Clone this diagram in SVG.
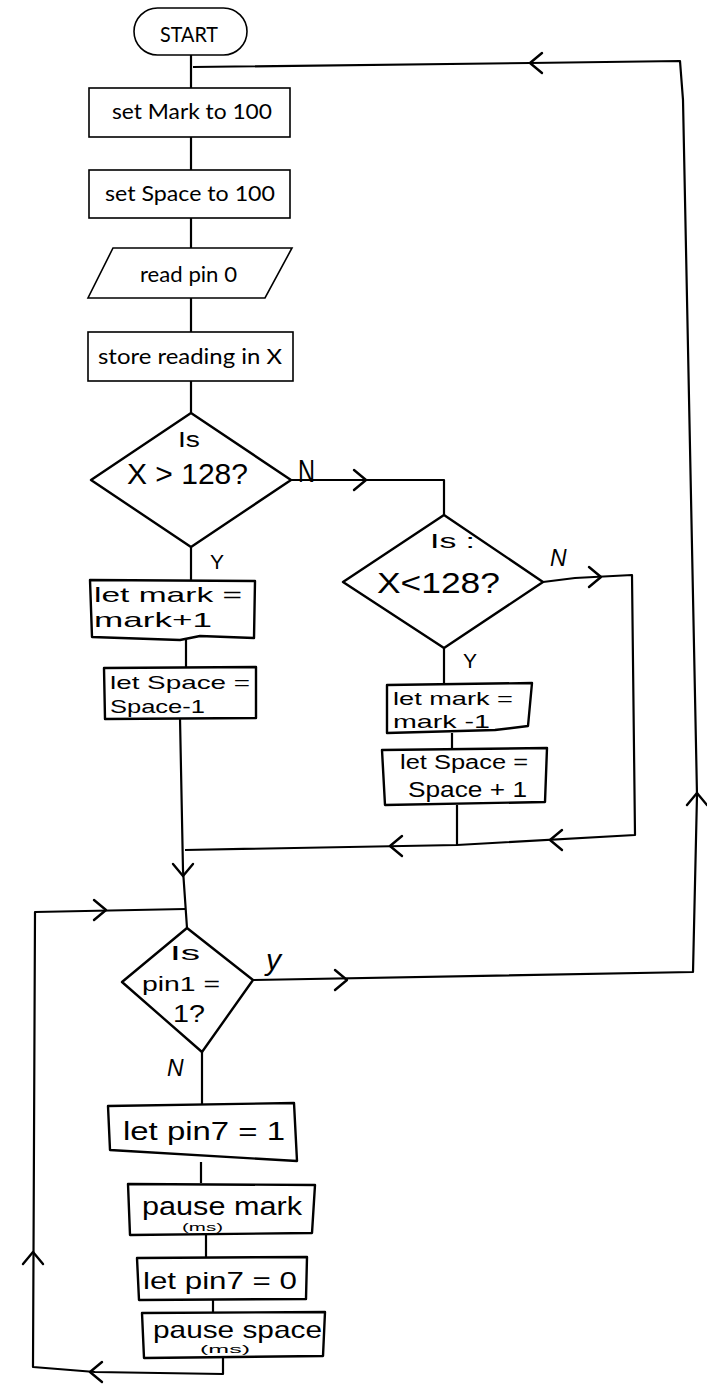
<svg xmlns="http://www.w3.org/2000/svg" xmlns:xlink="http://www.w3.org/1999/xlink" width="707" height="1389" viewBox="0 0 707 1389">
<style>
.typed{fill:none;stroke:#000;stroke-width:1.6}
.hand{fill:none;stroke:#000;stroke-width:2.4;stroke-linejoin:round;stroke-linecap:round}
.conn{fill:none;stroke:#000;stroke-width:2.2;stroke-linejoin:round}
.tt{font-family:Lato,"DejaVu Sans",sans-serif;font-size:22px;fill:#000}
.ht{font-family:"Liberation Sans","Noto Sans",sans-serif;font-size:21px;fill:#000}
.hs{font-family:"Liberation Sans","Noto Sans",sans-serif;font-size:10px;fill:#000}
.lbl{font-family:"Liberation Sans",sans-serif;font-size:22px;fill:#000}
</style>
<defs>
<path id="chev" d="M-12,-10 L0,0 L-12,10" fill="none" stroke="#000" stroke-width="2.4" stroke-linecap="round" stroke-linejoin="round"/>
</defs>
<rect width="707" height="1389" fill="#fff"/>

<g id="connectors">
<path class="conn" d="M191,55 L191,88"/>
<path class="conn" d="M191,137 L191,170"/>
<path class="conn" d="M191,218 L191,248"/>
<path class="conn" d="M191,298 L191,332"/>
<path class="conn" d="M191,381 L191,413"/>
<path class="conn" d="M193,67 L530,63 L680,61 L683,100 L697,795 L693,972 L253,980"/>
<path class="conn" d="M291,480 L444,480 L444,515"/>
<path class="conn" d="M191,547 L191,580"/>
<path class="conn" d="M186,638 L186,668"/>
<path class="conn" d="M180,718 L183,870 L187,928"/>
<path class="conn" d="M543,582 L575,578 L632,575 L635,835 L457,845 L185,850"/>
<path class="conn" d="M444,648 L444,683"/>
<path class="conn" d="M452,733 L452,748"/>
<path class="conn" d="M457,805 L457,845"/>
<path class="conn" d="M185,909 L35,912 L33,1367 L95,1372 L223,1374 L223,1358"/>
<path class="conn" d="M202,1052 L202,1105"/>
<path class="conn" d="M201,1162 L201,1183"/>
<path class="conn" d="M206,1235 L206,1257"/>
<path class="conn" d="M213,1300 L213,1312"/>
<use xlink:href="#chev" transform="translate(530,63) rotate(180)"/>
<use xlink:href="#chev" transform="translate(366,480)"/>
<use xlink:href="#chev" transform="translate(601,577)"/>
<use xlink:href="#chev" transform="translate(550,840) rotate(180)"/>
<use xlink:href="#chev" transform="translate(390,846) rotate(180)"/>
<use xlink:href="#chev" transform="translate(183,876) rotate(90)"/>
<use xlink:href="#chev" transform="translate(106,910)"/>
<use xlink:href="#chev" transform="translate(347,980)"/>
<use xlink:href="#chev" transform="translate(697,793) rotate(-90)"/>
<use xlink:href="#chev" transform="translate(33,1252) rotate(-90)"/>
<use xlink:href="#chev" transform="translate(90,1372) rotate(180)"/>
<text class="lbl" x="298" y="482" style="font-size:32px" textLength="17" lengthAdjust="spacingAndGlyphs">N</text>
<text class="lbl" x="210" y="569" style="font-size:21px">Y</text>
<text class="lbl" x="550" y="566" style="font-size:23px;font-style:italic">N</text>
<text class="lbl" x="463" y="668" style="font-size:21px">Y</text>
<text class="lbl" x="266" y="970" style="font-size:30px;font-style:italic">y</text>
<text class="lbl" x="167" y="1076" style="font-size:23px;font-style:italic">N</text>
</g>

<g id="start">
<rect class="typed" x="134" y="8" width="113" height="47" rx="23.5"/>
<text class="tt" x="160" y="42" textLength="58" lengthAdjust="spacingAndGlyphs">START</text>
</g>
<g id="set-mark">
<rect class="typed" x="89" y="88" width="201" height="49"/>
<text class="tt" x="112" y="119" textLength="160" lengthAdjust="spacingAndGlyphs">set Mark to 100</text>
</g>
<g id="set-space">
<rect class="typed" x="89" y="170" width="201" height="48"/>
<text class="tt" x="105" y="201" textLength="170" lengthAdjust="spacingAndGlyphs">set Space to 100</text>
</g>
<g id="read-pin">
<path class="typed" d="M113,248 L292,248 L265,298 L88,298 Z"/>
<text class="tt" x="140" y="282" textLength="97" lengthAdjust="spacingAndGlyphs">read pin 0</text>
</g>
<g id="store-x">
<rect class="typed" x="88" y="332" width="205" height="49"/>
<text class="tt" x="98" y="364" textLength="184" lengthAdjust="spacingAndGlyphs">store reading in X</text>
</g>
<g id="dec-gt">
<path class="hand" d="M191,413 L291,480 L191,547 L91,480 Z"/>
<text class="ht" x="178" y="447" style="font-size:22px" textLength="22" lengthAdjust="spacingAndGlyphs">Is</text>
<text class="ht" x="127" y="484" style="font-size:30px" textLength="121" lengthAdjust="spacingAndGlyphs">X &gt; 128?</text>
</g>
<g id="inc-mark">
<path class="hand" d="M90,580 L255,581 L254,638 L200,636 L180,640 L92,637 Z"/>
<text class="ht" x="94" y="602" textLength="148" lengthAdjust="spacingAndGlyphs">let mark =</text>
<text class="ht" x="94" y="627" textLength="118" lengthAdjust="spacingAndGlyphs">mark+1</text>
</g>
<g id="dec-space">
<path class="hand" d="M104,668 L256,667 L256,718 L105,719 Z"/>
<text class="ht" x="110" y="689" style="font-size:19px" textLength="140" lengthAdjust="spacingAndGlyphs">let Space =</text>
<text class="ht" x="110" y="713" style="font-size:19px" textLength="95" lengthAdjust="spacingAndGlyphs">Space-1</text>
</g>
<g id="dec-lt">
<path class="hand" d="M444,515 L543,582 L444,648 L343,582 Z"/>
<text class="ht" x="430" y="548" style="font-size:20px" textLength="45" lengthAdjust="spacingAndGlyphs">Is :</text>
<text class="ht" x="377" y="593" style="font-size:30px" textLength="123" lengthAdjust="spacingAndGlyphs">X&lt;128?</text>
</g>
<g id="dec-mark">
<path class="hand" d="M387,685 L532,683 L528,726 L495,730 L387,733 Z"/>
<text class="ht" x="393" y="705" style="font-size:19px" textLength="120" lengthAdjust="spacingAndGlyphs">let mark =</text>
<text class="ht" x="393" y="728" style="font-size:19px" textLength="97" lengthAdjust="spacingAndGlyphs">mark -1</text>
</g>
<g id="inc-space">
<path class="hand" d="M382,750 L547,748 L545,802 L385,805 Z"/>
<text class="ht" x="400" y="769" style="font-size:20px" textLength="128" lengthAdjust="spacingAndGlyphs">let Space =</text>
<text class="ht" x="408" y="797" style="font-size:22px" textLength="119" lengthAdjust="spacingAndGlyphs">Space + 1</text>
</g>
<g id="dec-pin1">
<path class="hand" d="M187,928 L253,980 L202,1052 L122,982 Z"/>
<text class="ht" x="170" y="960" style="font-size:20px" textLength="30" lengthAdjust="spacingAndGlyphs">Is</text>
<text class="ht" x="142" y="991" style="font-size:21px" textLength="78" lengthAdjust="spacingAndGlyphs">pin1 =</text>
<text class="ht" x="173" y="1022" style="font-size:24px" textLength="32" lengthAdjust="spacingAndGlyphs">1?</text>
</g>
<g id="pin7-on">
<path class="hand" d="M108,1106 L294,1103 L297,1161 L110,1150 Z"/>
<text class="ht" x="123" y="1140" style="font-size:26px" textLength="162" lengthAdjust="spacingAndGlyphs">let pin7 = 1</text>
</g>
<g id="pause-mark">
<path class="hand" d="M128,1184 L315,1185 L312,1233 L130,1235 Z"/>
<text class="ht" x="142" y="1215" style="font-size:25px" textLength="160" lengthAdjust="spacingAndGlyphs">pause mark</text>
<text class="hs" x="182" y="1231" textLength="41" lengthAdjust="spacingAndGlyphs">(ms)</text>
</g>
<g id="pin7-off">
<path class="hand" d="M137,1258 L307,1257 L306,1299 L139,1300 Z"/>
<text class="ht" x="143" y="1289" style="font-size:24px" textLength="154" lengthAdjust="spacingAndGlyphs">let pin7 = 0</text>
</g>
<g id="pause-space">
<path class="hand" d="M142,1313 L325,1312 L323,1356 L144,1358 Z"/>
<text class="ht" x="153" y="1338" style="font-size:24px" textLength="169" lengthAdjust="spacingAndGlyphs">pause space</text>
<text class="hs" x="200" y="1353" textLength="50" lengthAdjust="spacingAndGlyphs">(ms)</text>
</g>
</svg>
